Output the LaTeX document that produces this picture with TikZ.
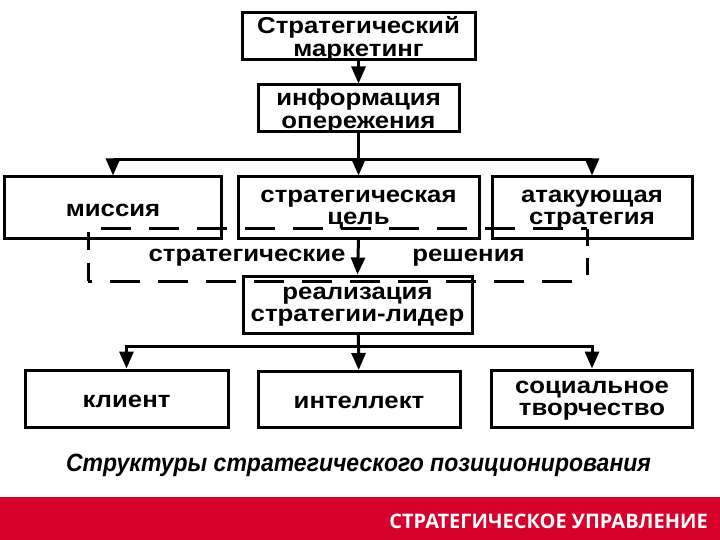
\documentclass[tikz,border=0pt]{standalone}
\usepackage{fontspec}
\setmainfont{Liberation Sans}
\newfontfamily\boxfont[FakeStretch=1.12]{Liberation Sans}
\newfontfamily\capfont[FakeStretch=0.92]{Liberation Sans}
\newfontfamily\bandfont{Open Sans}
\usepackage{tikz}
\usetikzlibrary{arrows.meta, positioning, calc}
\definecolor{bandred}{RGB}{214,0,42}

\begin{document}
\begin{tikzpicture}[x=1pt, y=-1pt,
    box/.style={draw=black, line width=3pt, fill=white, align=center, inner sep=0pt,
        text depth=0pt, font=\boxfont\bfseries\fontsize{23}{22.5}\selectfont},
    oneline/.style={text height=17pt},
    label/.style={font=\boxfont\bfseries\fontsize{23}{22.5}\selectfont},
    link/.style={line width=3pt},
    arrowline/.style={line width=3pt, -{Triangle[length=17pt,width=14pt]}},
    groupline/.style={line width=3pt, dash pattern=on 30pt off 18pt}]
\useasboundingbox (0,0) rectangle (720,540);

% Top of the chain
\node[box, minimum width=233pt, minimum height=47pt] (marketing) at (358.5,36.5)
    {Стратегический\\маркетинг};
\node[box, minimum width=201pt, minimum height=47pt] (info) at (358.5,108.5)
    {информация\\опережения};

% Middle row
\node[box, oneline, minimum width=217pt, minimum height=61pt] (mission) at (113,207.5) {миссия};
\node[box, minimum width=241pt, minimum height=61pt] (goal) at (358.5,207.5)
    {стратегическая\\цель};
\node[box, minimum width=200pt, minimum height=61pt] (attack) at (592,207.5)
    {атакующая\\стратегия};

\node[box, minimum width=229pt, minimum height=57pt] (leader) at (357.5,304.5)
    {реализация\\стратегии-лидер};

% Bottom row
\node[box, oneline, minimum width=203pt, minimum height=57pt] (client) at (126.5,398.5) {клиент};
\node[box, oneline, minimum width=202pt, minimum height=56pt] (intellect) at (359,399.5) {интеллект};
\node[box, minimum width=201pt, minimum height=57pt] (social) at (592,398.5)
    {социальное\\творчество};

% Connectors
\coordinate (split1) at (358.5,160);
\coordinate (split2) at (358.5,346);
\draw[arrowline] (marketing) -- (info);
\draw[link] (info) -- (split1);
\draw[arrowline] (split1) -| (mission);
\draw[arrowline] (split1) -- (goal);
\draw[arrowline] (split1) -| (attack);
\draw[arrowline] (goal.south) -- (leader.north);
\draw[link] (leader) -- (split2);
\draw[arrowline] (split2) -| (client);
\draw[arrowline] (split2) -- (intellect);
\draw[arrowline] (split2) -| (social);

% Dashed group over the boxes
\draw[groupline, dash phase=35pt] (88,229) -- (587,229);
\draw[groupline, dash pattern=on 18pt off 13pt] (88,232) -- (88,281);
\draw[groupline, dash pattern=on 17pt off 12pt] (587,229) -- (587,279);
\draw[groupline, dash phase=26pt] (88,281) -- (587,281);
\node[label] (decisions1) at (247,258) {стратегические};
\node[label] (decisions2) at (468.5,258) {решения};

% Caption and footer
\node[anchor=base, font=\capfont\bfseries\itshape\fontsize{25}{28}\selectfont] (caption)
    at (358.5,471) {Структуры стратегического позиционирования};
\fill[bandred] (0,497) rectangle (720,540);
\node[anchor=base east, inner sep=0pt, text=white,
    font=\bandfont\bfseries\fontsize{20}{22}\selectfont] (footer)
    at (708,528) {СТРАТЕГИЧЕСКОЕ УПРАВЛЕНИЕ};
\end{tikzpicture}
\end{document}
